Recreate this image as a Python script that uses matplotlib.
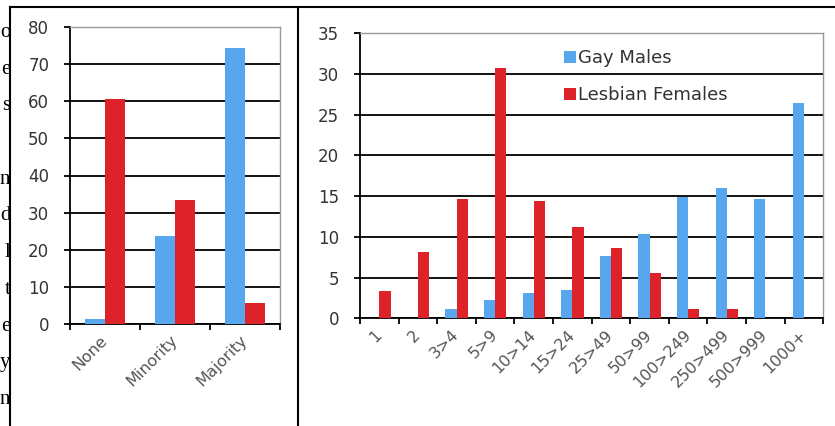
import matplotlib.pyplot as plt
import numpy as np
from matplotlib.lines import Line2D

# share of partners (left panel)
share_cats = ["None", "Minority", "Majority"]
share_gay = [1.3, 23.7, 74.3]
share_lesbian = [60.5, 33.4, 5.7]

# number of partners (right panel)
count_cats = ["1", "2", "3>4", "5>9", "10>14", "15>24", "25>49", "50>99",
              "100>249", "250>499", "500>999", "1000+"]
count_gay = [0, 0, 1.2, 2.2, 3.1, 3.5, 7.6, 10.3, 14.9, 16.0, 14.6, 26.5]
count_lesbian = [3.4, 8.1, 14.6, 30.7, 14.4, 11.2, 8.6, 5.6, 1.2, 1.2, 0, 0]

series_names = ["Gay Males", "Lesbian Females"]

# tail ends of the body text lines running beside the figure
margin_letters = ["o", "e", "s", "", "n", "d", "l", "t", "e", "y", "n"]

BLUE = "#58a6ee"
RED = "#dd2329"
W, H = 835, 426


def draw_panel(ax, cats, gay, lesbian, ymax, ystep):
    x = np.arange(len(cats))
    ax.bar(x - 0.145, gay, 0.29, color=BLUE, zorder=3, label=series_names[0])
    ax.bar(x + 0.145, lesbian, 0.29, color=RED, zorder=3, label=series_names[1])
    ax.set_xlim(-0.5, len(cats) - 0.5)
    ax.set_ylim(0, ymax)
    yt = np.arange(0, ymax + 1, ystep)
    ax.set_yticks(yt)
    ax.set_xticks(x)
    ax.set_xticklabels(cats, rotation=45, ha="right", va="center",
                       rotation_mode="anchor", color="#555555", fontsize=11.5)
    ax.set_xticks(np.arange(len(cats) + 1) - 0.5, minor=True)
    ax.tick_params(axis="x", which="major", length=0, pad=10)
    ax.tick_params(axis="x", which="minor", length=4, width=1.3, direction="out")
    ax.tick_params(axis="y", length=4, width=1.3, pad=11, labelsize=12,
                   labelcolor="#333333")
    ax.yaxis.grid(True, color="black", lw=1.3)
    ax.set_axisbelow(True)
    ax.get_ygridlines()[-1].set_visible(False)
    for s in ("left", "bottom"):
        ax.spines[s].set_color("black")
        ax.spines[s].set_linewidth(1.3)
    for s in ("top", "right"):
        ax.spines[s].set_color("#999999")
        ax.spines[s].set_linewidth(1.0)


fig = plt.figure(figsize=(W / 100, H / 100), dpi=100)

ax1 = fig.add_axes([70 / W, 1 - 324 / H, 210 / W, 297 / H])
draw_panel(ax1, share_cats, share_gay, share_lesbian, 80, 10)

ax2 = fig.add_axes([360 / W, 1 - 318.3 / H, 463.3 / W, 285 / H])
draw_panel(ax2, count_cats, count_gay, count_lesbian, 35, 5)
ax2.legend(loc="upper left", bbox_to_anchor=(0.42, 0.975), frameon=False,
           fontsize=13, handlelength=0.7, handleheight=0.7,
           handletextpad=0.12, labelspacing=1.05, borderpad=0,
           labelcolor="#333333")

# page frame around the two panels
fig.add_artist(Line2D([10 / W, 1], [1 - 7 / H] * 2, color="black", lw=1.5))
fig.add_artist(Line2D([10 / W] * 2, [0, 1 - 7 / H], color="black", lw=1.5))
fig.add_artist(Line2D([298 / W] * 2, [0, 1 - 7 / H], color="black", lw=1.5))

for i, ch in enumerate(margin_letters):
    fig.text(10.5 / W, 1 - (37 + 36.7 * i) / H, ch, ha="right", va="baseline",
             family="Liberation Serif", fontsize=15, color="black")

fig.savefig("out.png", dpi=100)
